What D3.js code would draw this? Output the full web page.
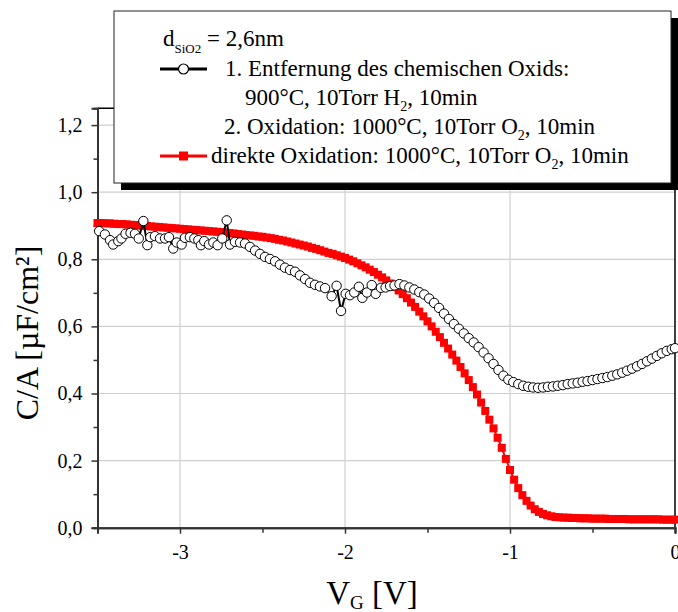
<!DOCTYPE html>
<html><head><meta charset="utf-8">
<script src="https://cdn.jsdelivr.net/npm/d3@7"></script>
<style>
body{margin:0;background:#fff}
svg{display:block}
text{font-family:"Liberation Serif","Times New Roman",serif;fill:#000}
</style>
</head><body>
<svg id="c" width="678" height="612"></svg>
<script>
// ---- data ----
const xTicks = [-3, -2, -1, 0];
const xMinor = [-3.5, -2.5, -1.5, -0.5];
const yTicks = [0, 0.2, 0.4, 0.6, 0.8, 1.0, 1.2];
const yMinor = [0.1, 0.3, 0.5, 0.7, 0.9, 1.1];

// direkte Oxidation (red squares)
const redV = [-3.5,-3.475,-3.45,-3.425,-3.4,-3.375,-3.35,-3.325,-3.3,-3.275,-3.25,-3.225,-3.2,-3.175,-3.15,-3.125,-3.1,-3.075,-3.05,-3.025,
-3.0,-2.975,-2.95,-2.925,-2.9,-2.875,-2.85,-2.825,-2.8,-2.775,-2.75,-2.725,-2.7,-2.675,-2.65,-2.625,-2.6,-2.575,-2.55,-2.525,
-2.5,-2.475,-2.45,-2.425,-2.4,-2.375,-2.35,-2.325,-2.3,-2.275,-2.25,-2.225,-2.2,-2.175,-2.15,-2.125,-2.1,-2.075,-2.05,-2.025,
-2.0,-1.975,-1.95,-1.925,-1.9,-1.875,-1.85,-1.825,-1.8,-1.775,-1.75,-1.725,-1.7,-1.675,-1.65,-1.625,-1.6,-1.575,-1.55,-1.525,
-1.5,-1.475,-1.45,-1.425,-1.4,-1.375,-1.35,-1.325,-1.3,-1.275,-1.25,-1.225,-1.2,-1.175,-1.15,-1.125,-1.1,-1.075,-1.05,-1.025,
-1.0,-0.975,-0.95,-0.925,-0.9,-0.875,-0.85,-0.825,-0.8,-0.775,-0.75,-0.725,-0.7,-0.675,-0.65,-0.625,-0.6,-0.575,-0.55,-0.525,
-0.5,-0.475,-0.45,-0.425,-0.4,-0.375,-0.35,-0.325,-0.3,-0.275,-0.25,-0.225,-0.2,-0.175,-0.15,-0.125,-0.1,-0.075,-0.05,-0.025,0];
const redC = [0.908,0.908,0.907,0.907,0.906,0.905,0.905,0.904,0.903,0.902,0.901,0.900,0.899,0.898,0.897,0.896,0.895,0.894,0.893,0.892,
0.891,0.890,0.889,0.888,0.887,0.886,0.885,0.884,0.883,0.882,0.881,0.880,0.878,0.877,0.875,0.874,0.872,0.871,0.870,0.868,
0.867,0.865,0.863,0.861,0.858,0.856,0.853,0.850,0.847,0.844,0.841,0.838,0.834,0.831,0.827,0.823,0.819,0.816,0.812,0.808,
0.804,0.799,0.794,0.788,0.782,0.776,0.769,0.762,0.754,0.746,0.737,0.728,0.718,0.707,0.696,0.684,0.671,0.658,0.644,0.630,
0.615,0.600,0.584,0.568,0.551,0.534,0.516,0.498,0.479,0.460,0.440,0.419,0.397,0.373,0.348,0.322,0.296,0.268,0.238,0.205,
0.172,0.143,0.118,0.097,0.080,0.066,0.055,0.047,0.041,0.037,0.034,0.032,0.031,0.030,0.030,0.029,0.029,0.028,0.028,0.028,
0.027,0.027,0.027,0.027,0.026,0.026,0.026,0.026,0.026,0.025,0.025,0.025,0.025,0.025,0.025,0.025,0.025,0.024,0.024,0.024,0.024];

// 1. Entfernung des chemischen Oxids + 2. Oxidation (open circles)
const blkV = [-3.49,-3.455,-3.424,-3.405,-3.374,-3.355,-3.33,-3.3,-3.273,-3.25,-3.222,-3.198,-3.18,-3.152,-3.121,-3.091,-3.067,-3.041,-3.02,-2.99,
-2.97,-2.94,-2.913,-2.889,-2.873,-2.853,-2.824,-2.798,-2.772,-2.744,-2.717,-2.697,-2.667,-2.636,-2.606,-2.576,-2.545,-2.515,-2.485,-2.455,
-2.424,-2.394,-2.364,-2.333,-2.303,-2.273,-2.242,-2.212,-2.182,-2.152,-2.121,-2.081,-2.051,-2.024,-1.996,-1.97,-1.944,-1.916,-1.895,-1.867,
-1.838,-1.814,-1.782,-1.754,-1.727,-1.7,-1.67,-1.64,-1.61,-1.58,-1.55,-1.52,-1.49,-1.46,-1.43,-1.4,-1.37,-1.34,-1.31,-1.28,
-1.25,-1.22,-1.19,-1.16,-1.13,-1.1,-1.07,-1.04,-1.01,-0.98,-0.95,-0.92,-0.89,-0.86,-0.83,-0.8,-0.77,-0.74,-0.71,-0.68,
-0.65,-0.62,-0.59,-0.56,-0.53,-0.5,-0.47,-0.44,-0.41,-0.38,-0.35,-0.32,-0.29,-0.26,-0.23,-0.2,-0.17,-0.14,-0.11,-0.08,
-0.05,-0.02,0];
const blkC = [0.884,0.874,0.857,0.844,0.854,0.862,0.876,0.879,0.876,0.862,0.914,0.842,0.866,0.869,0.862,0.862,0.866,0.832,0.850,0.844,
0.864,0.866,0.862,0.857,0.842,0.854,0.844,0.850,0.842,0.862,0.916,0.844,0.852,0.850,0.847,0.837,0.826,0.816,0.807,0.801,
0.794,0.784,0.775,0.768,0.763,0.752,0.741,0.730,0.724,0.719,0.714,0.690,0.721,0.646,0.697,0.693,0.701,0.718,0.685,0.701,
0.723,0.697,0.715,0.716,0.720,0.722,0.726,0.722,0.716,0.710,0.702,0.695,0.683,0.670,0.655,0.638,0.622,0.607,0.593,0.579,
0.565,0.552,0.538,0.522,0.505,0.488,0.470,0.453,0.441,0.434,0.428,0.423,0.420,0.418,0.417,0.418,0.420,0.421,0.423,0.425,
0.428,0.430,0.432,0.435,0.437,0.440,0.443,0.446,0.449,0.453,0.457,0.462,0.468,0.474,0.481,0.488,0.496,0.504,0.512,0.520,
0.527,0.532,0.535];

// ---- drawing ----
const svg = d3.select("#c");
const x = d3.scaleLinear().domain([-3.5, 0]).range([97.5, 675]);
const y = d3.scaleLinear().domain([0, 1.25]).range([527.7, 108.3]);
const fmtY = d => d3.format(".1f")(d).replace(".", ",");

// grid
svg.append("g").selectAll("line").data(xTicks.filter(d => d !== 0)).join("line")
  .attr("x1", d => x(d)).attr("x2", d => x(d)).attr("y1", y(0)).attr("y2", y(1.25))
  .attr("stroke", "#cfcfcf").attr("stroke-width", 1.2);
svg.append("g").selectAll("line").data(yTicks.filter(d => d !== 0)).join("line")
  .attr("x1", x(-3.5)).attr("x2", x(0)).attr("y1", d => y(d)).attr("y2", d => y(d))
  .attr("stroke", "#cfcfcf").attr("stroke-width", 1.2);

// frame top/right
svg.append("path").attr("d", `M${x(-3.5)},${y(1.25)}H${x(0)}V${y(0)}`)
  .attr("fill", "none").attr("stroke", "#000").attr("stroke-width", 1.5);

// axes
const gx = svg.append("g").attr("transform", `translate(0,${y(0)})`)
  .call(d3.axisBottom(x).tickValues(xTicks).tickFormat(d => String(d)).tickSize(6).tickPadding(11));
const gxm = svg.append("g").attr("transform", `translate(0,${y(0)})`)
  .call(d3.axisBottom(x).tickValues(xMinor).tickFormat("").tickSize(5));
const gy = svg.append("g").attr("transform", `translate(${x(-3.5)},0)`)
  .call(d3.axisLeft(y).tickValues(yTicks).tickFormat(fmtY).tickSize(6).tickPadding(9));
const gym = svg.append("g").attr("transform", `translate(${x(-3.5)},0)`)
  .call(d3.axisLeft(y).tickValues(yMinor).tickFormat("").tickSize(4));
[gx, gxm, gy, gym].forEach(g => {
  g.attr("font-family", null);
  g.select(".domain").attr("stroke", "#333").attr("stroke-width", 2);
  g.selectAll(".tick line").attr("stroke", "#333").attr("stroke-width", 1.5);
  g.selectAll("text").attr("font-size", 20).attr("fill", "#000");
});

// red series
const redPts = redV.map((v, i) => [v, redC[i]]);
const blkPts = blkV.map((v, i) => [v, blkC[i]]);
const line = d3.line().x(d => x(d[0])).y(d => y(d[1]));
svg.append("path").datum(redPts).attr("d", line).attr("fill", "none").attr("stroke", "#ff0000").attr("stroke-width", 2);
svg.append("g").selectAll("rect").data(redPts).join("rect")
  .attr("x", d => x(d[0]) - 4).attr("y", d => y(d[1]) - 4)
  .attr("width", 8).attr("height", 8).attr("fill", "#ff0000");

// black series
svg.append("path").datum(blkPts).attr("d", line).attr("fill", "none").attr("stroke", "#000").attr("stroke-width", 2);
svg.append("g").selectAll("circle").data(blkPts).join("circle")
  .attr("cx", d => x(d[0])).attr("cy", d => y(d[1])).attr("r", 4.7)
  .attr("fill", "#fff").attr("stroke", "#000").attr("stroke-width", 1);

// axis titles
svg.append("text").attr("x", 372).attr("y", 604).attr("text-anchor", "middle").attr("font-size", 33)
  .call(t => { t.append("tspan").text("V");
               t.append("tspan").attr("font-size", 19).attr("dy", 5).text("G");
               t.append("tspan").attr("dy", -5).text(" [V]"); });
svg.append("text").attr("transform", "translate(38,333) rotate(-90)").attr("text-anchor", "middle")
  .attr("font-size", 32).text("C/A [µF/cm²]");

// legend
const lg = svg.append("g");
lg.append("rect").attr("x", 121).attr("y", 18).attr("width", 557).attr("height", 172).attr("fill", "#000");
lg.append("rect").attr("x", 114).attr("y", 11).attr("width", 557).attr("height", 172)
  .attr("fill", "#fff").attr("stroke", "#222").attr("stroke-width", 1);
const fs = 23;
lg.append("text").attr("x", 163).attr("y", 46).attr("font-size", fs)
  .call(t => { t.append("tspan").text("d");
               t.append("tspan").attr("font-size", 13).attr("dy", 7).text("SiO2");
               t.append("tspan").attr("dy", -7).text(" = 2,6nm"); });
// symbols
lg.append("line").attr("x1", 160).attr("x2", 207).attr("y1", 69).attr("y2", 69).attr("stroke", "#000").attr("stroke-width", 3);
lg.append("circle").attr("cx", 183.5).attr("cy", 69).attr("r", 5).attr("fill", "#fff").attr("stroke", "#000").attr("stroke-width", 1.2);
lg.append("line").attr("x1", 160).attr("x2", 207).attr("y1", 156).attr("y2", 156).attr("stroke", "#ff0000").attr("stroke-width", 3);
lg.append("rect").attr("x", 179).attr("y", 151.5).attr("width", 9).attr("height", 9).attr("fill", "#ff0000");

lg.append("text").attr("x", 225).attr("y", 76).attr("font-size", fs).text("1. Entfernung des chemischen Oxids:");
lg.append("text").attr("x", 245).attr("y", 105).attr("font-size", fs)
  .call(t => { t.append("tspan").text("900°C, 10Torr H");
               t.append("tspan").attr("font-size", 14).attr("dy", 6).text("2");
               t.append("tspan").attr("dy", -6).text(", 10min"); });
lg.append("text").attr("x", 224).attr("y", 134).attr("font-size", fs)
  .call(t => { t.append("tspan").text("2. Oxidation: 1000°C, 10Torr O");
               t.append("tspan").attr("font-size", 14).attr("dy", 6).text("2");
               t.append("tspan").attr("dy", -6).text(", 10min"); });
lg.append("text").attr("x", 211).attr("y", 163).attr("font-size", fs)
  .call(t => { t.append("tspan").text("direkte Oxidation: 1000°C, 10Torr O");
               t.append("tspan").attr("font-size", 14).attr("dy", 6).text("2");
               t.append("tspan").attr("dy", -6).text(", 10min"); });
</script>
</body></html>
